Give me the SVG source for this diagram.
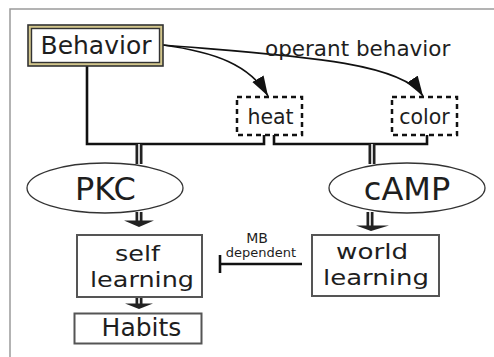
<svg xmlns="http://www.w3.org/2000/svg" width="494" height="357" viewBox="0 0 494 357">
<style>
  text { font-family: "DejaVu Sans", "Liberation Sans", sans-serif; fill: #1e1e1e; }
  .box { fill: #ffffff; stroke: #555555; stroke-width: 2; }
  .dash { fill: #ffffff; stroke: #111111; stroke-width: 2.5; stroke-dasharray: 5 4; }
  .ell { fill: #ffffff; stroke: #333333; stroke-width: 1.3; }
  .wire { fill: none; stroke: #111111; stroke-width: 2.6; }
  .curve { fill: none; stroke: #111111; stroke-width: 1.6; }
  .dblo { fill: none; stroke: #222222; stroke-width: 7; }
  .dbli { fill: none; stroke: #cfcfcf; stroke-width: 2; }
  .head { fill: #222222; }
  .frame { fill: none; stroke: #9a9a9a; stroke-width: 1.5; }
</style>
<defs>
  <marker id="arr" markerUnits="userSpaceOnUse" markerWidth="22" markerHeight="14" refX="20" refY="6.5" orient="auto">
    <path d="M0,0 L20,6.5 L0,13 Z" fill="#111111"/>
  </marker>
</defs>
<rect width="494" height="357" fill="#ffffff"/>
<path class="frame" d="M10,357 V9 H494"/>

<g id="connectors">
  <path class="wire" d="M87,66 V144 H264 V135"/>
  <path class="wire" d="M274,135 V144 H427 V135"/>
  <path class="curve" d="M163,45 C215,52 250,65 268,96" marker-end="url(#arr)"/>
  <path class="curve" d="M163,45 C280,55 400,60 423,96" marker-end="url(#arr)"/>
  <g id="dbl-pkc-in">
    <path class="dblo" d="M139,144 V164"/><path class="dbli" d="M139,144 V164"/>
  </g>
  <g id="dbl-camp-in">
    <path class="dblo" d="M372,144 V164"/><path class="dbli" d="M372,144 V164"/>
  </g>
  <g id="dbl-pkc-self">
    <path class="dblo" d="M139,212 V221"/><path class="dbli" d="M139,212 V221"/>
    <polygon class="head" points="124,220.5 154,220.5 139,227"/>
  </g>
  <g id="dbl-self-habits">
    <path class="dblo" d="M139,297 V304"/><path class="dbli" d="M139,297 V304"/>
    <polygon class="head" points="125,303.5 153,303.5 139,309"/>
  </g>
  <g id="dbl-camp-world">
    <path class="dblo" d="M370,212 V226"/><path class="dbli" d="M370,212 V226"/>
    <polygon class="head" points="356,225.5 389,225.5 371,231"/>
  </g>
  <g id="inhibit">
    <path class="wire" d="M302,264 H220"/>
    <path class="wire" d="M220,255 V273"/>
    <text font-size="13" text-anchor="middle"><tspan x="257" y="243" font-size="14">MB</tspan><tspan x="261" y="257">dependent</tspan></text>
  </g>
  <text x="265" y="56" font-size="21.5">operant behavior</text>
</g>

<g id="behavior">
  <rect x="28" y="25" width="135" height="41" fill="#d2c68c" stroke="#333333" stroke-width="1.6"/>
  <rect x="31.5" y="28.5" width="128" height="34" fill="#ffffff" stroke="#333333" stroke-width="1.4"/>
  <text x="96" y="53.5" font-size="25" text-anchor="middle">Behavior</text>
</g>

<g id="heat">
  <rect class="dash" x="237" y="97" width="65" height="38"/>
  <text x="270.5" y="123.5" font-size="20.5" text-anchor="middle">heat</text>
</g>

<g id="color">
  <rect class="dash" x="392" y="97" width="65" height="38"/>
  <text x="424.5" y="123.5" font-size="20.5" text-anchor="middle">color</text>
</g>

<g id="pkc">
  <ellipse class="ell" cx="105" cy="188" rx="78" ry="25"/>
  <text x="105.5" y="200" font-size="32" text-anchor="middle">PKC</text>
</g>

<g id="camp">
  <ellipse class="ell" cx="407" cy="188" rx="78" ry="25"/>
  <text x="407" y="199.5" font-size="32" text-anchor="middle">cAMP</text>
</g>

<g id="self-learning">
  <rect class="box" x="77" y="235" width="125" height="62"/>
  <text x="115" y="261" font-size="22" textLength="45" lengthAdjust="spacingAndGlyphs">self</text>
  <text x="90" y="287" font-size="22" textLength="104" lengthAdjust="spacingAndGlyphs">learning</text>
</g>

<g id="world-learning">
  <rect class="box" x="312" y="235" width="127" height="61"/>
  <text x="336" y="259" font-size="22" textLength="72" lengthAdjust="spacingAndGlyphs">world</text>
  <text x="323" y="285" font-size="22" textLength="106" lengthAdjust="spacingAndGlyphs">learning</text>
</g>

<g id="habits">
  <rect class="box" x="74.5" y="313.5" width="127" height="30"/>
  <text x="141.5" y="335.5" font-size="25" text-anchor="middle">Habits</text>
</g>
</svg>
